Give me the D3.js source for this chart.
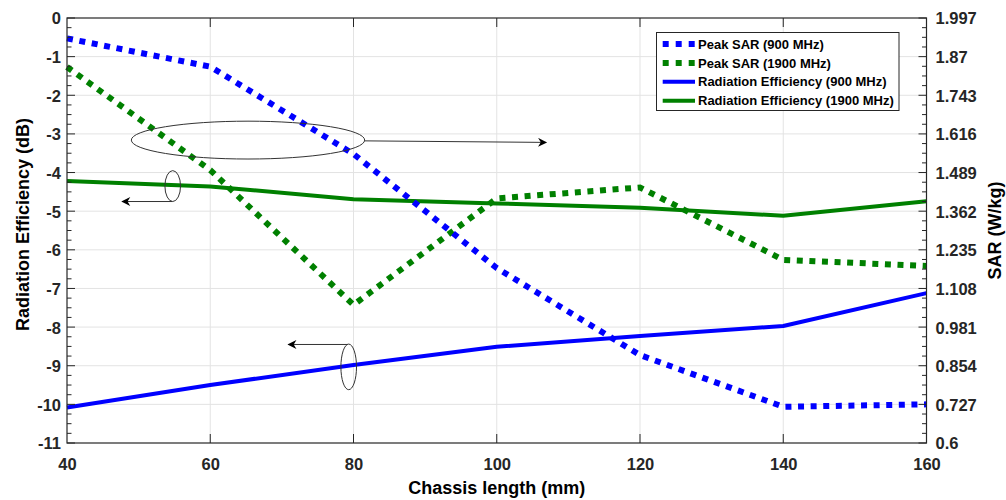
<!DOCTYPE html>
<html>
<head>
<meta charset="utf-8">
<script src="https://cdn.jsdelivr.net/npm/d3@7"></script>
<style>
  html, body { margin: 0; padding: 0; background: #fff; }
  svg { display: block; font-family: "Liberation Sans", Arial, sans-serif; }
</style>
</head>
<body>
<svg id="chart" width="1006" height="500"></svg>
<script>
// Chassis length sweep (mm)
const chassisLength = [40, 60, 80, 100, 120, 140, 160];

// Radiation efficiency (dB), left axis
const effLow  = [-10.08, -9.50, -8.98, -8.51, -8.23, -7.97, -7.12];   // 900 MHz
const effHigh = [-4.22, -4.36, -4.69, -4.80, -4.91, -5.12, -4.74];    // 1900 MHz

// Peak SAR (W/kg), right axis
const sarLow  = [1.930, 1.837, 1.550, 1.175, 0.889, 0.719, 0.727];    // 900 MHz
const sarHigh = [1.836, 1.497, 1.054, 1.404, 1.440, 1.202, 1.182];    // 1900 MHz

// Tick values
const xTicks = [40, 60, 80, 100, 120, 140, 160];
const effTicks = [0, -1, -2, -3, -4, -5, -6, -7, -8, -9, -10, -11];
const sarTicks = [0.6, 0.727, 0.854, 0.981, 1.108, 1.235, 1.362, 1.489, 1.616, 1.743, 1.87, 1.997];

const legendLabels = [
  "Peak SAR (900 MHz)",
  "Peak SAR (1900 MHz)",
  "Radiation Efficiency (900 MHz)",
  "Radiation Efficiency (1900 MHz)"
];

const BLUE = "#0000ff", GREEN = "#008000", AXIS = "#262626", GRID = "#e3e3e3";

const svg = d3.select("#chart");
const L = 67, R = 926.5, T = 18, B = 443;

const x = d3.scaleLinear().domain([40, 160]).range([L, R]);
const yEff = d3.scaleLinear().domain([-11, 0]).range([B, T]);
const ySar = d3.scaleLinear().domain([0.6, 1.997]).range([B, T]);

// grid
const grid = svg.append("g");
grid.selectAll("line.v").data(xTicks.slice(1, -1)).join("line")
  .attr("x1", d => x(d)).attr("x2", d => x(d)).attr("y1", T).attr("y2", B)
  .attr("stroke", GRID).attr("stroke-width", 1);
grid.selectAll("line.h").data(effTicks.slice(1, -1)).join("line")
  .attr("x1", L).attr("x2", R).attr("y1", d => yEff(d)).attr("y2", d => yEff(d))
  .attr("stroke", GRID).attr("stroke-width", 1);

// series
const lineEff = d3.line().x((d, i) => x(chassisLength[i])).y(d => yEff(d));
const lineSar = d3.line().x((d, i) => x(chassisLength[i])).y(d => ySar(d));

const series = svg.append("g");
series.append("path").datum(effHigh).attr("d", lineEff)
  .attr("fill", "none").attr("stroke", GREEN).attr("stroke-width", 4).attr("stroke-linejoin", "round");
series.append("path").datum(effLow).attr("d", lineEff)
  .attr("fill", "none").attr("stroke", BLUE).attr("stroke-width", 4).attr("stroke-linejoin", "round");
series.append("path").datum(sarHigh).attr("d", lineSar)
  .attr("fill", "none").attr("stroke", GREEN).attr("stroke-width", 6).attr("stroke-dasharray", "6 6.6");
series.append("path").datum(sarLow).attr("d", lineSar)
  .attr("fill", "none").attr("stroke", BLUE).attr("stroke-width", 6).attr("stroke-dasharray", "6 6.6");

// axes
const fontTick = "bold 16.5px 'Liberation Sans', Arial, sans-serif";

const gx = svg.append("g").attr("transform", `translate(0,${B})`)
  .call(d3.axisBottom(x).tickValues(xTicks).tickSize(0).tickPadding(15));
const gxTop = svg.append("g").attr("transform", `translate(0,${T})`)
  .call(d3.axisTop(x).tickValues(xTicks).tickSize(0).tickFormat(""));
const gl = svg.append("g").attr("transform", `translate(${L},0)`)
  .call(d3.axisLeft(yEff).tickValues(effTicks).tickSize(0).tickPadding(6).tickFormat(d => String(d)));
const gr = svg.append("g").attr("transform", `translate(${R},0)`)
  .call(d3.axisRight(ySar).tickValues(sarTicks).tickSize(0).tickPadding(9).tickFormat(d => String(d)));

[gx, gxTop, gl, gr].forEach(g => {
  g.select(".domain").remove();
  g.selectAll("text").style("font", fontTick).attr("fill", AXIS);
});
gl.selectAll("text").attr("dy", "0.36em");
gr.selectAll("text").attr("dy", "0.36em");
gx.selectAll("text").attr("dy", "0.71em");

// inward tick marks
const ticks = svg.append("g").attr("stroke", AXIS).attr("stroke-width", 1);
xTicks.slice(1, -1).forEach(v => {
  ticks.append("line").attr("x1", x(v)).attr("x2", x(v)).attr("y1", B).attr("y2", B - 9);
  ticks.append("line").attr("x1", x(v)).attr("x2", x(v)).attr("y1", T).attr("y2", T + 9);
});
const effMinor = d3.range(-11, 0.001, 0.25);
effMinor.forEach(v => {
  const major = Math.abs(v - Math.round(v)) < 1e-6;
  ticks.append("line").attr("x1", L).attr("x2", L + (major ? 8 : 4.5))
    .attr("y1", yEff(v)).attr("y2", yEff(v));
});
const sarStep = 0.127 / 4;
d3.range(0, 45).forEach(k => {
  const v = 0.6 + k * sarStep;
  const major = k % 4 === 0;
  ticks.append("line").attr("x1", R).attr("x2", R - (major ? 8 : 4.5))
    .attr("y1", ySar(v)).attr("y2", ySar(v));
});

// plot box
svg.append("rect").attr("x", L).attr("y", T).attr("width", R - L).attr("height", B - T)
  .attr("fill", "none").attr("stroke", AXIS).attr("stroke-width", 1.2);

// axis titles
const fontLabel = "bold 18px 'Liberation Sans', Arial, sans-serif";
svg.append("text").attr("x", (L + R) / 2).attr("y", 494).attr("text-anchor", "middle")
  .style("font", fontLabel).attr("fill", "#000").text("Chassis length (mm)");
svg.append("text").attr("transform", `translate(29,${(T + B) / 2 - 6}) rotate(-90)`)
  .attr("text-anchor", "middle").style("font", fontLabel).attr("fill", "#000")
  .text("Radiation Efficiency (dB)");
svg.append("text").attr("transform", `translate(1001,${(T + B) / 2}) rotate(-90)`)
  .attr("text-anchor", "middle").style("font", fontLabel).attr("fill", "#000")
  .text("SAR (W/kg)");

// annotations: ellipses grouping curves, arrows pointing to their axis
const ANN = "#333";
const defs = svg.append("defs");
defs.append("marker").attr("id", "head").attr("viewBox", "0 0 10 10")
  .attr("refX", 9).attr("refY", 5).attr("markerWidth", 10).attr("markerHeight", 9)
  .attr("markerUnits", "userSpaceOnUse").attr("orient", "auto")
  .append("path").attr("d", "M0,0 L10,5 L0,10 L3,5 Z").attr("fill", "#000");

const ann = svg.append("g").attr("fill", "none").attr("stroke", ANN).attr("stroke-width", 1);
function ellipse(cx, cy, rxMm, ryDb) {
  ann.append("ellipse").attr("cx", x(cx)).attr("cy", yEff(cy))
    .attr("rx", x(cx + rxMm) - x(cx)).attr("ry", yEff(cy - ryDb) - yEff(cy));
}
function arrow(x1, y1, x2, y2) {
  ann.append("line").attr("x1", x(x1)).attr("y1", yEff(y1)).attr("x2", x(x2)).attr("y2", yEff(y2))
    .attr("marker-end", "url(#head)");
}
// SAR curves -> right axis
ellipse(65.27, -3.16, 16.29, 0.49);
arrow(81.56, -3.18, 106.9, -3.22);
// 1900 MHz efficiency -> left axis
ellipse(54.76, -4.35, 1.09, 0.40);
arrow(54.7, -4.75, 47.7, -4.75);
// 900 MHz efficiency -> left axis
ellipse(79.33, -9.03, 1.09, 0.59);
arrow(79.2, -8.45, 70.9, -8.45);

// legend
const lg = svg.append("g").attr("transform", "translate(656.5,32.5)");
lg.append("rect").attr("width", 242.5).attr("height", 78).attr("fill", "#fff")
  .attr("stroke", AXIS).attr("stroke-width", 1);
const legendStyle = [
  { c: BLUE, w: 6, dash: "6 7" },
  { c: GREEN, w: 6, dash: "6 7" },
  { c: BLUE, w: 4, dash: null },
  { c: GREEN, w: 4, dash: null }
];
legendLabels.forEach((lab, i) => {
  const yy = 11.5 + i * 18.9;
  const s = legendStyle[i];
  lg.append("line").attr("x1", 6.2).attr("x2", 38.5).attr("y1", yy).attr("y2", yy)
    .attr("stroke", s.c).attr("stroke-width", s.w).attr("stroke-dasharray", s.dash);
  lg.append("text").attr("x", 41.5).attr("y", yy).attr("dy", "0.36em")
    .style("font", "bold 13px 'Liberation Sans', Arial, sans-serif").attr("fill", "#000").text(lab);
});
</script>
</body>
</html>
